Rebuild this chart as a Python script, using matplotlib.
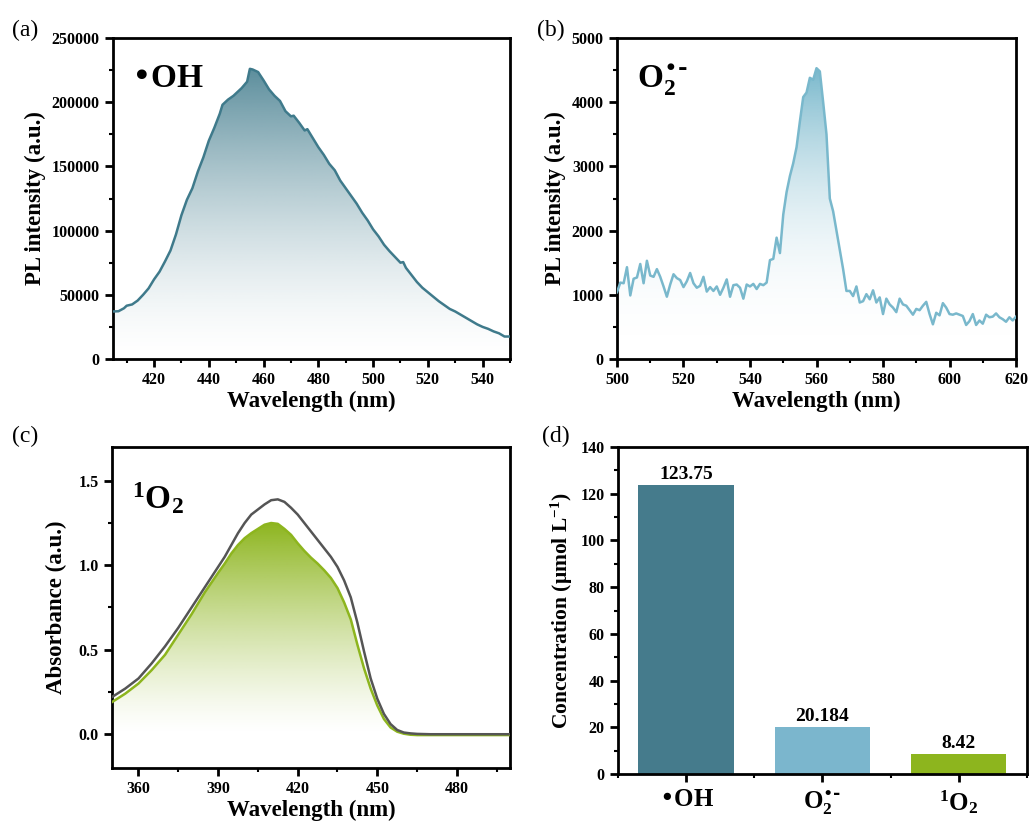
import numpy as np
import matplotlib
matplotlib.use('Agg')
import matplotlib.pyplot as plt
from matplotlib.colors import to_rgb
from matplotlib.ticker import MultipleLocator, AutoMinorLocator

plt.rcParams['font.family'] = ['Liberation Serif', 'DejaVu Serif']
plt.rcParams['font.weight'] = 'bold'
plt.rcParams['axes.linewidth'] = 2.0

# (a) PL spectrum, hydroxyl radical
wl_a = [405, 407, 409, 410, 412, 414, 416, 418, 420, 422, 424, 426, 428, 430, 432, 434,
        436, 438, 440, 442, 444, 445, 447, 449, 450, 452, 454, 455, 456, 458, 460, 462,
        464, 466, 468, 470, 471, 473, 475, 476, 478, 480, 482, 484, 486, 488, 490, 492,
        494, 496, 498, 500, 502, 504, 506, 508, 510, 511, 512, 514, 516, 518, 520, 522,
        524, 526, 528, 530, 532, 534, 536, 538, 540, 542, 544, 546, 548, 550]
pl_a = [37000, 37200, 39500, 41500, 42500, 45500, 50000, 55000, 62000, 68000, 76000, 84500,
        97000, 112000, 124000, 133000, 146000, 157000, 170000, 180000, 191000, 198000, 202000,
        205000, 207000, 211000, 216000, 226000, 225500, 223500, 217000, 210000, 205000, 201000,
        193000, 189000, 189500, 184000, 178000, 179000, 172000, 165000, 159000, 152000, 147000,
        139000, 133000, 127000, 121000, 114000, 108000, 101000, 95500, 89000, 84000, 79500,
        75000, 75500, 71000, 65500, 60000, 55500, 52000, 48500, 45000, 42000, 39000, 37000,
        34500, 32000, 29500, 27000, 25000, 23500, 21500, 20000, 17500, 17500]

# (b) PL spectrum, superoxide radical
wl_b = list(range(500, 621))
pl_b = [1040, 1190, 1180, 1430, 990, 1250, 1270, 1480, 1180, 1530, 1300, 1280, 1400, 1280,
        1130, 970, 1160, 1320, 1260, 1230, 1120, 1210, 1340, 1180, 1110, 1140, 1280, 1050,
        1120, 1060, 1130, 1000, 1110, 1240, 970, 1150, 1160, 1110, 940, 1160, 1130, 1170,
        1090, 1170, 1150, 1190, 1540, 1560, 1890, 1650, 2250, 2600, 2850, 3050, 3300, 3700,
        4080, 4150, 4380, 4350, 4530, 4480, 4000, 3500, 2500, 2300, 2000, 1700, 1400, 1060,
        1060, 980, 1130, 880, 900, 1010, 930, 1070, 880, 960, 700, 940, 850, 800, 730, 940,
        850, 830, 760, 690, 780, 760, 830, 890, 700, 540, 720, 680, 870, 800, 700, 690, 710,
        690, 670, 530, 590, 700, 530, 600, 550, 690, 650, 660, 710, 650, 620, 580, 650, 600,
        660]

# (c) absorbance, singlet oxygen probe
wl_c = [350, 355, 360, 365, 370, 375, 380, 385, 390, 392.5, 395, 397.5, 400, 402.5, 405,
        407.5, 410, 412.5, 415, 417.5, 420, 422.5, 425, 427.5, 430, 432.5, 435, 437.5, 440,
        442.5, 445, 447.5, 450, 452.5, 455, 457.5, 460, 462.5, 465, 470, 480, 490, 500]
abs_ref = [0.22, 0.27, 0.33, 0.42, 0.52, 0.63, 0.75, 0.87, 0.99, 1.05, 1.12, 1.19, 1.25,
           1.30, 1.33, 1.36, 1.385, 1.39, 1.375, 1.34, 1.30, 1.25, 1.20, 1.15, 1.10, 1.05,
           0.99, 0.91, 0.81, 0.66, 0.49, 0.33, 0.21, 0.12, 0.06, 0.025, 0.01, 0.005, 0.002,
           0.0, 0.0, 0.0, 0.0]
abs_o2 = [0.19, 0.24, 0.30, 0.38, 0.47, 0.59, 0.71, 0.84, 0.955, 1.01, 1.07, 1.12, 1.16,
          1.19, 1.215, 1.24, 1.25, 1.245, 1.215, 1.18, 1.13, 1.085, 1.045, 1.01, 0.97, 0.925,
          0.865, 0.78, 0.68, 0.53, 0.39, 0.27, 0.17, 0.09, 0.04, 0.015, 0.003, -0.003, -0.005,
          -0.005, -0.005, -0.005, -0.005]

# (d) concentrations
species = [r'$\mathregular{•OH}$', r'$\mathregular{O_2^{•\text{-}}}$', r'$\mathregular{^1O_2}$']
conc = [123.75, 20.184, 8.42]
conc_labels = ['123.75', '20.184', '8.42']

c_oh = '#457B8C'
c_sup = '#7BB6CD'
c_so = '#8DB51E'


def gradient_fill(ax, x, y, color, lw=1.8, power=1.5, amax=0.9, zorder=2):
    x = np.asarray(x, float)
    y = np.asarray(y, float)
    line, = ax.plot(x, y, color=color, lw=lw, zorder=zorder + 1)
    ymax = y.max()
    rgb = to_rgb(color)
    z = np.empty((200, 1, 4))
    z[:, :, :3] = rgb
    z[:, :, 3] = (amax * np.linspace(0, 1, 200) ** power)[:, None]
    im = ax.imshow(z, aspect='auto', extent=[x.min(), x.max(), 0, ymax],
                   origin='lower', zorder=zorder)
    poly = ax.fill_between(x, y, 0, facecolor='none', edgecolor='none')
    im.set_clip_path(poly.get_paths()[0], transform=ax.transData)
    return line


def style(ax):
    ax.tick_params(which='major', direction='out', length=6, width=2, labelsize=11.5,
                   top=False, right=False)
    ax.tick_params(which='minor', direction='out', length=3, width=1.5, top=False, right=False)
    for lab in ax.get_xticklabels() + ax.get_yticklabels():
        lab.set_fontweight('bold')


fig = plt.figure(figsize=(10.29, 8.23), dpi=100)

# panel a
ax = fig.add_axes([0.1098, 0.5638, 0.3858, 0.39])
gradient_fill(ax, wl_a, pl_a, '#3F7A8B', amax=0.85)
ax.set_xlim(405, 550)
ax.set_ylim(0, 250000)
ax.xaxis.set_major_locator(MultipleLocator(20))
ax.xaxis.set_minor_locator(AutoMinorLocator(2))
ax.yaxis.set_major_locator(MultipleLocator(50000))
ax.yaxis.set_minor_locator(AutoMinorLocator(2))
ax.set_xlabel('Wavelength (nm)', fontsize=16.5, fontweight='bold', labelpad=2)
ax.set_ylabel('PL intensity (a.u.)', fontsize=16.5, fontweight='bold', labelpad=4)
ax.text(0.045, 0.875, r'$\mathregular{•OH}$', transform=ax.transAxes, fontsize=24,
        fontweight='bold', va='center', ha='left')
style(ax)
fig.text(0.012, 0.963, '(a)', fontsize=17, fontweight='normal', va='center')

# panel b
ax = fig.add_axes([0.5996, 0.5638, 0.3878, 0.39])
gradient_fill(ax, wl_b, pl_b, '#79B8CC', power=2.2, amax=1.0)
ax.set_xlim(500, 620)
ax.set_ylim(0, 5000)
ax.xaxis.set_major_locator(MultipleLocator(20))
ax.xaxis.set_minor_locator(AutoMinorLocator(2))
ax.yaxis.set_major_locator(MultipleLocator(1000))
ax.yaxis.set_minor_locator(AutoMinorLocator(2))
ax.set_xlabel('Wavelength (nm)', fontsize=16.5, fontweight='bold', labelpad=2)
ax.set_ylabel('PL intensity (a.u.)', fontsize=16.5, fontweight='bold', labelpad=4)
ax.text(0.05, 0.87, r'$\mathregular{O_2^{•\text{-}}}$', transform=ax.transAxes, fontsize=24,
        fontweight='bold', va='center', ha='left')
style(ax)
fig.text(0.522, 0.963, '(b)', fontsize=17, fontweight='normal', va='center')

# panel c
ax = fig.add_axes([0.1088, 0.0668, 0.3868, 0.3901])
ax.plot(wl_c, abs_ref, color='#555555', lw=1.8, zorder=4)
gradient_fill(ax, wl_c, abs_o2, c_so, power=1.3, amax=1.0)
ax.set_xlim(350, 500)
ax.set_ylim(-0.2, 1.7)
ax.xaxis.set_major_locator(MultipleLocator(30))
ax.xaxis.set_minor_locator(AutoMinorLocator(2))
ax.yaxis.set_major_locator(MultipleLocator(0.5))
ax.yaxis.set_minor_locator(AutoMinorLocator(2))
ax.set_xlabel('Wavelength (nm)', fontsize=16.5, fontweight='bold', labelpad=2)
ax.set_ylabel('Absorbance (a.u.)', fontsize=16.5, fontweight='bold', labelpad=8)
ax.text(0.05, 0.84, r'$\mathregular{^1O_2}$', transform=ax.transAxes, fontsize=24,
        fontweight='bold', va='center', ha='left')
style(ax)
fig.text(0.012, 0.47, '(c)', fontsize=17, fontweight='normal', va='center')

# panel d
ax = fig.add_axes([0.6006, 0.0595, 0.3974, 0.3974])
pos = np.arange(len(conc))
bars = ax.bar(pos, conc, width=0.7, color=[c_oh, c_sup, c_so])
for b, lab in zip(bars, conc_labels):
    ax.text(b.get_x() + b.get_width() / 2, b.get_height() + 0.8, lab, ha='center',
            va='bottom', fontsize=14, fontweight='bold')
ax.set_xlim(-0.5, 2.5)
ax.set_ylim(0, 140)
ax.set_xticks(pos)
ax.set_xticklabels(species, fontsize=18, fontweight='bold')
ax.xaxis.set_minor_locator(MultipleLocator(0.5))
ax.yaxis.set_major_locator(MultipleLocator(20))
ax.yaxis.set_minor_locator(AutoMinorLocator(2))
ax.set_ylabel(r'Concentration (μmol L$\mathregular{^{-1}}$)', fontsize=15.5,
              fontweight='bold', labelpad=4)
style(ax)
ax.tick_params(axis='x', which='major', labelsize=18, pad=4)
ax.tick_params(axis='x', which='minor', length=3)
fig.text(0.527, 0.47, '(d)', fontsize=17, fontweight='normal', va='center')

fig.savefig('out.png', dpi=100)
